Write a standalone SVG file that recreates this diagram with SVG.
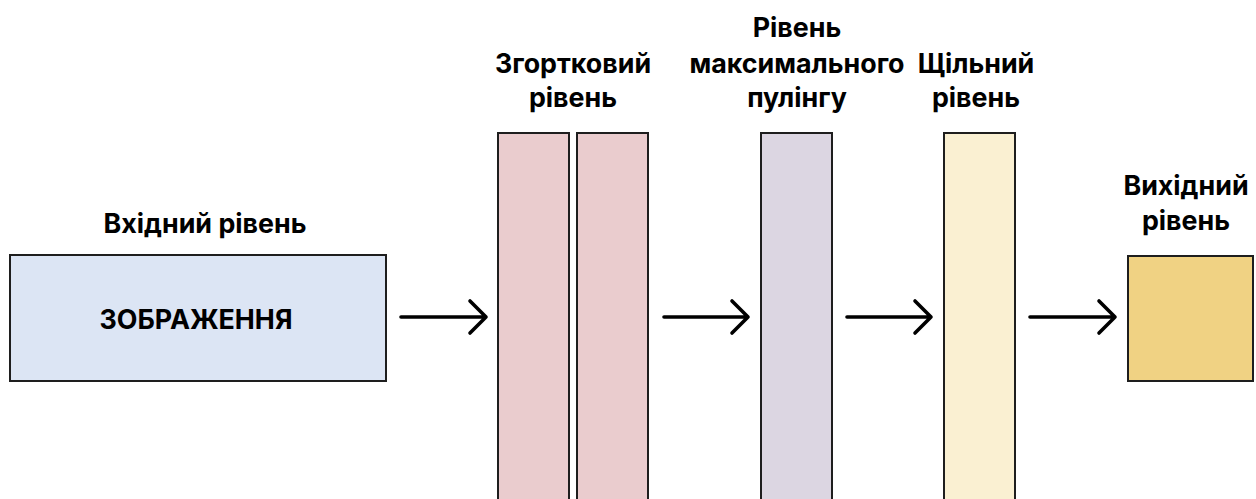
<svg xmlns="http://www.w3.org/2000/svg" width="1256" height="499" viewBox="0 0 1256 499">
<style>
.box{stroke:#1e1e1e;stroke-width:2}
.lbl{font-family:Inter,"Liberation Sans",sans-serif;font-weight:700;font-size:26.8px;fill:#000;text-anchor:middle}
.conn{stroke:#000;stroke-width:3.6;fill:none;stroke-linecap:round;stroke-linejoin:round}
</style>
<rect width="1256" height="499" fill="#fff"/>
<g id="input">
<rect class="box" x="10" y="255" width="376" height="126" fill="#dce5f4"/>
<text class="lbl" x="205" y="233">Вхідний рівень</text>
<text class="lbl" x="196" y="329">ЗОБРАЖЕННЯ</text>
</g>
<g id="conv">
<rect class="box" x="498" y="133" width="71" height="380" fill="#eaccce"/>
<rect class="box" x="577" y="133" width="71" height="380" fill="#eaccce"/>
<text class="lbl" x="573" y="73">Згортковий</text>
<text class="lbl" x="573" y="107">рівень</text>
</g>
<g id="pool">
<rect class="box" x="761" y="133" width="71" height="380" fill="#dcd6e2"/>
<text class="lbl" x="797" y="37">Рівень</text>
<text class="lbl" x="797" y="73">максимального</text>
<text class="lbl" x="797" y="107">пулінгу</text>
</g>
<g id="dense">
<rect class="box" x="944" y="133" width="71" height="380" fill="#faf0d2"/>
<text class="lbl" x="976" y="73">Щільний</text>
<text class="lbl" x="976" y="107">рівень</text>
</g>
<g id="output">
<rect class="box" x="1128" y="256" width="125" height="125" fill="#f0d283"/>
<text class="lbl" x="1186" y="195">Вихідний</text>
<text class="lbl" x="1186" y="230">рівень</text>
</g>
<g id="connectors">
<path class="conn" d="M401 317H486M470 301L486 317L470 333"/>
<path class="conn" d="M664 317H748M732 301L748 317L732 333"/>
<path class="conn" d="M847 317H931M915 301L931 317L915 333"/>
<path class="conn" d="M1030 317H1115M1099 301L1115 317L1099 333"/>
</g>
</svg>
